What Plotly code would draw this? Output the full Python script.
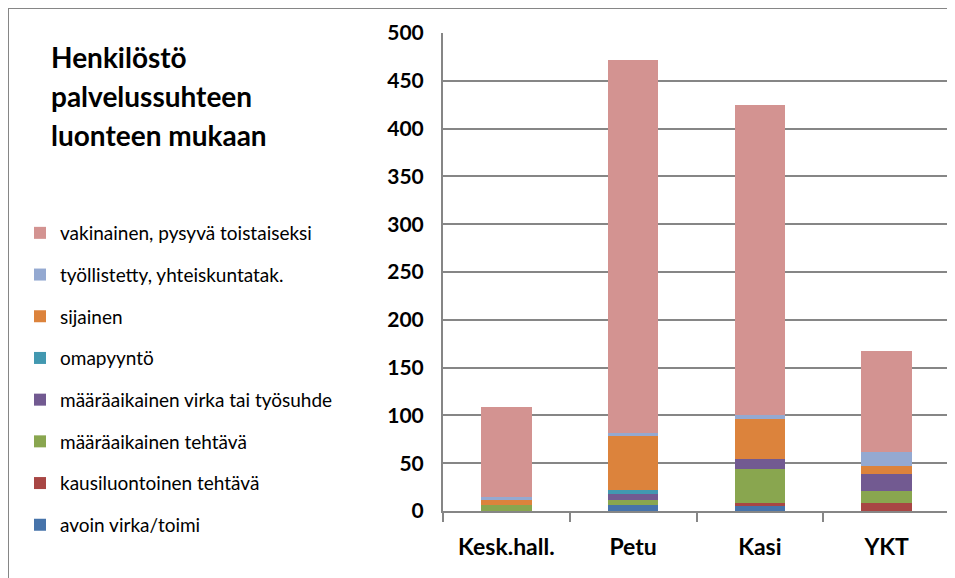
import plotly.graph_objects as go

categories = ["Kesk.hall.", "Petu", "Kasi", "YKT"]

series_names = [
    "avoin virka/toimi",
    "kausiluontoinen tehtävä",
    "määräaikainen tehtävä",
    "määräaikainen virka tai työsuhde",
    "omapyyntö",
    "sijainen",
    "työllistetty, yhteiskuntatak.",
    "vakinainen, pysyvä toistaiseksi",
]

avoin = [0, 6, 6, 0]
kausi = [0, 0, 2, 8]
maar_tehtava = [6, 5, 36, 13]
maar_virka = [0, 7, 10, 18]
omapyynto = [0, 4, 0, 0]
sijainen = [6, 56, 42, 8]
tyollistetty = [3, 4, 4, 15]
vakinainen = [94, 390, 325, 105]

series_values = [avoin, kausi, maar_tehtava, maar_virka, omapyynto,
                 sijainen, tyollistetty, vakinainen]

colors = ["#4673AA", "#A84644", "#89A64F", "#725A91", "#4298B0",
          "#DC833C", "#94A9D1", "#D39391"]

fig = go.Figure()
for i, (name, vals, col) in enumerate(zip(series_names, series_values, colors)):
    fig.add_trace(go.Bar(x=categories, y=vals, name=name, marker_color=col,
                         marker_line_width=0, legendgroup=name,
                         legendrank=100 - i))

font_name = "Lato, Open Sans, sans-serif"

# page body has an 8px margin, so the figure is shrunk to fit the window
fig.update_layout(
    width=947, height=570,
    barmode="stack", bargap=0.6,
    plot_bgcolor="white", paper_bgcolor="white",
    margin=dict(l=435, r=5, t=25, b=67),
    font=dict(family=font_name, color="black"),
    showlegend=True,
    legend=dict(x=(20 - 443) / 507, y=(511 - 214) / 478,
                xanchor="left", yanchor="top",
                traceorder="grouped", tracegroupgap=14, maxheight=600,
                font=dict(size=19, family=font_name, color="black"),
                bgcolor="rgba(0,0,0,0)"),
)

fig.update_yaxes(range=[0, 500], dtick=50, showgrid=True, gridcolor="#868686",
                 gridwidth=1.5, showline=True, linecolor="#868686", linewidth=2,
                 tickfont=dict(size=21, family=font_name, color="black", weight="bold"),
                 ticklabelstandoff=13, zeroline=False)
fig.update_xaxes(showline=True, linecolor="#868686", linewidth=2,
                 ticks="outside", tickson="boundaries", ticklen=9, tickwidth=2,
                 tickcolor="#868686", ticklabelstandoff=14,
                 tickfont=dict(size=23, family=font_name, color="black", weight="bold"))

title_lines = ["Henkilöstö", "palvelussuhteen", "luonteen mukaan"]
for i, line in enumerate(title_lines):
    fig.add_annotation(text=line, xref="paper", yref="paper",
                       x=(49 - 443) / 507, y=(511 - (57 + 39 * i)) / 478,
                       xanchor="left", yanchor="middle", showarrow=False,
                       font=dict(size=28, family=font_name, color="black", weight="bold"))

# chart frame
fig.add_shape(type="rect", xref="paper", yref="paper",
              x0=(8 - 443) / 507, x1=(1000 - 443) / 507,
              y0=(511 - 600) / 478, y1=(511 - 8) / 478,
              line=dict(color="#868686", width=2), layer="below")

fig.write_html("out.html")
